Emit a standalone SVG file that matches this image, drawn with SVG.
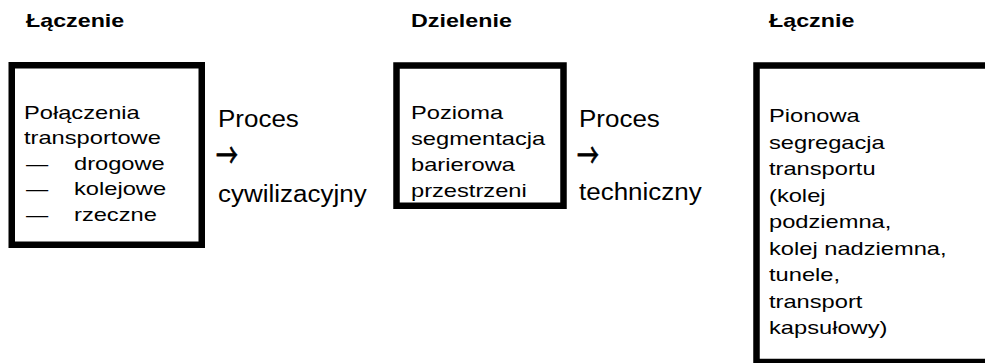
<svg xmlns="http://www.w3.org/2000/svg" width="985" height="363" viewBox="0 0 985 363">
<style>
.t{font-family:"Liberation Sans",Arial,sans-serif;fill:#000}
.h{font-size:17.5px;font-weight:bold}
.b{font-size:18.5px}
.p{font-size:23px}
.a{font-family:"Noto Sans CJK JP","DejaVu Sans",sans-serif;font-size:34px;fill:#000;stroke:#000;stroke-width:0.9}
.box{fill:#fff;stroke:#000;stroke-width:6.5}
</style>
<rect width="985" height="363" fill="#fff"/>
<g id="titles">
<text class="t h" transform="translate(26,27) scale(1.33,1)">Łączenie</text>
<text class="t h" transform="translate(411,27) scale(1.33,1)">Dzielenie</text>
<text class="t h" transform="translate(769,27) scale(1.33,1)">Łącznie</text>
</g>
<g id="node-laczenie">
<rect class="box" x="11.75" y="65.25" width="190" height="179.5"/>
<text class="t b" transform="translate(24,118.5) scale(1.28,1)">Połączenia</text>
<text class="t b" transform="translate(24,144) scale(1.28,1)">transportowe</text>
<text class="t b" transform="translate(26,169.5) scale(1.2,1)">—</text>
<text class="t b" transform="translate(74,169.5) scale(1.28,1)">drogowe</text>
<text class="t b" transform="translate(26,195) scale(1.2,1)">—</text>
<text class="t b" transform="translate(74,195) scale(1.28,1)">kolejowe</text>
<text class="t b" transform="translate(26,220.5) scale(1.2,1)">—</text>
<text class="t b" transform="translate(74,220.5) scale(1.28,1)">rzeczne</text>
</g>
<g id="label-cywilizacyjny">
<text class="t p" transform="translate(218,127) scale(1.13,1)">Proces</text>
<text class="a" transform="translate(216,168) scale(0.64,1)">→</text>
<text class="t p" transform="translate(218,201.5) scale(1.13,1)">cywilizacyjny</text>
</g>
<g id="node-dzielenie">
<rect class="box" x="396.5" y="65.5" width="167" height="140.25"/>
<text class="t b" transform="translate(411,119) scale(1.28,1)">Pozioma</text>
<text class="t b" transform="translate(411,145) scale(1.28,1)">segmentacja</text>
<text class="t b" transform="translate(411,171) scale(1.28,1)">barierowa</text>
<text class="t b" transform="translate(411,197) scale(1.28,1)">przestrzeni</text>
</g>
<g id="label-techniczny">
<text class="t p" transform="translate(579,127) scale(1.13,1)">Proces</text>
<text class="a" transform="translate(577,168) scale(0.64,1)">→</text>
<text class="t p" transform="translate(579,200) scale(1.13,1)">techniczny</text>
</g>
<g id="node-lacznie">
<rect class="box" x="756.5" y="65.5" width="240" height="296.5"/>
<text class="t b" transform="translate(769,122) scale(1.28,1)">Pionowa</text>
<text class="t b" transform="translate(769,148.5) scale(1.28,1)">segregacja</text>
<text class="t b" transform="translate(769,175) scale(1.28,1)">transportu</text>
<text class="t b" transform="translate(769,201.5) scale(1.28,1)">(kolej</text>
<text class="t b" transform="translate(769,228) scale(1.28,1)">podziemna,</text>
<text class="t b" transform="translate(769,254.5) scale(1.28,1)">kolej nadziemna,</text>
<text class="t b" transform="translate(769,281) scale(1.28,1)">tunele,</text>
<text class="t b" transform="translate(769,307.5) scale(1.28,1)">transport</text>
<text class="t b" transform="translate(769,334) scale(1.28,1)">kapsułowy)</text>
</g>
<g id="connectors"/>
</svg>
